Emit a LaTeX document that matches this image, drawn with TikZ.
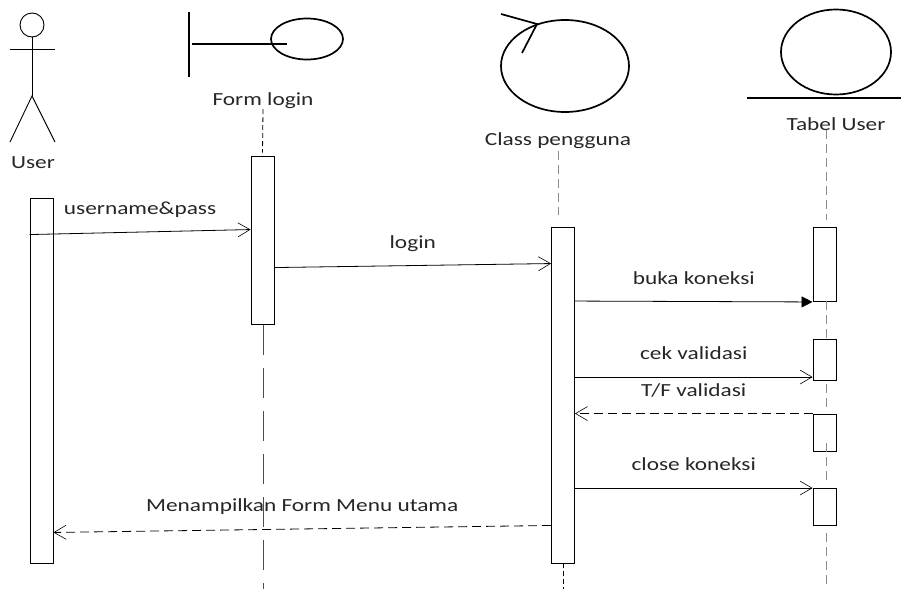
\documentclass[tikz,border=0pt]{standalone}
\usepackage{fontspec}
\setmainfont[FakeStretch=1.26]{Carlito}
\usepackage{tikz}
\usetikzlibrary{shapes,arrows.meta}
\usetikzlibrary{calc,positioning}
\definecolor{lifegray}{gray}{0.55}
\tikzstyle{arrow} = [line width=0.8pt,-{Straight Barb[length=12pt,width=14pt,line width=0.6pt]}]
\tikzstyle{retarrow} = [arrow,dash pattern=on 9pt off 5pt]
\tikzstyle{lifeline} = [line width=0.8pt,dash pattern=on 5pt off 3pt]
\tikzstyle{lifelong} = [line width=0.7pt,black!70,dash pattern=on 30pt off 13pt]
\tikzstyle{lifepale} = [line width=1pt,lifegray,dash pattern=on 9pt off 5pt]
\tikzset{
    block/.style = {draw, fill=white, rectangle, line width=0.9pt, minimum width=23pt, inner sep=0pt},
    lbl/.style = {font=\fontsize{18.5}{20}\selectfont, text=black!85, inner sep=0pt},
    icon/.style = {draw, ellipse, line width=1.7pt, inner sep=0pt},
    stick/.style = {line width=0.9pt},
    bar/.style = {line width=1.7pt},
}

\begin{document}
\begin{tikzpicture}[x=1pt, y=-1pt]
    \useasboundingbox (0,0) rectangle (901,589);

    % headers
    \node [draw, circle, stick, minimum size=24pt, inner sep=0pt] (userhead) at (32,25) {};
    \coordinate (userhip) at (32,96);
    \coordinate (userarml) at (10,49);
    \coordinate (userarmr) at (55,49);
    \coordinate (userlegl) at (10,142);
    \coordinate (userlegr) at (55,142);
    \draw [stick] (userhead) -- (userhip);
    \draw [stick] (userarml) -- (userarmr);
    \draw [stick] (userlegl) -- (userhip) -- (userlegr);
    \node [lbl] (lbluser) at (33,163) {User};

    \coordinate (formbartop) at (189,12);
    \coordinate (formbarbot) at (189,77);
    \coordinate (formstem) at (192,44);
    \coordinate (formstemend) at (287,44);
    \node [icon, minimum width=72pt, minimum height=41pt] (formcircle) at (307,39) {};
    \draw [bar, line width=2.2pt] (formbartop) -- (formbarbot);
    \draw [bar] (formstem) -- (formstemend);
    \node [lbl] (lblform) at (263,101) {Form login};

    \node [icon, minimum width=128pt, minimum height=92pt] (classcircle) at (565,66) {};
    \coordinate (classtip) at (537,24);
    \coordinate (classa) at (501,14);
    \coordinate (classb) at (522,53);
    \draw [bar] (classa) -- (classtip) -- (classb);
    \node [lbl] (lblclass) at (558,141) {Class pengguna};

    \node [icon, minimum width=110pt, minimum height=85pt] (tabelcircle) at (836,52) {};
    \coordinate (tabell) at (747,98);
    \coordinate (tabelr) at (901,98);
    \draw [bar] (tabell) -- (tabelr);
    \node [lbl] (lbltabel) at (836,124) {Tabel User};

    % activation boxes
    \node [block, minimum height=365pt] (boxuser) at (41.5,380.5) {};
    \node [block, minimum height=168pt] (boxform) at (262.5,240) {};
    \node [block, minimum height=336pt] (boxclass) at (563,395) {};
    \node [block, minimum height=74pt] (boxtabela) at (824.5,264) {};
    \node [block, minimum height=41pt] (boxtabelb) at (824.5,359.5) {};
    \node [block, minimum height=37pt] (boxtabelc) at (824.5,432.5) {};
    \node [block, minimum height=37pt] (boxtabeld) at (824.5,506.5) {};

    % lifelines
    \coordinate (endform) at (263,589);
    \coordinate (endclass) at (563,589);
    \coordinate (endtabel) at (826,584);
    \draw [lifeline] ([yshift=0]lblform.south) -- ([yshift=3]boxform.north);
    \draw [lifelong] ([xshift=0.5,yshift=-1]boxform.south) -- (endform);
    \draw [lifepale] ([yshift=-2]lblclass.south) -- ([xshift=-5,yshift=12]boxclass.north);
    \draw [lifeline] (boxclass.south) -- (endclass);
    \draw [lifepale] ([xshift=-10,yshift=1]lbltabel.south) -- ([xshift=1.5,yshift=7]boxtabela.north);
    \draw [lifepale] ([xshift=1.5]boxtabela.south) -- ([xshift=1.5]boxtabelb.north);
    \draw [lifepale] ([xshift=1.5,yshift=-4]boxtabelb.south) -- ([xshift=1.5,yshift=4]boxtabelc.north);
    \draw [lifepale] ([xshift=1.5,yshift=8]boxtabelc.south) -- ([xshift=1.5,yshift=6]boxtabeld.north);
    \draw [lifepale] ([xshift=1.5,yshift=-8]boxtabeld.south) -- (endtabel);

    % messages
    \draw [arrow] ([yshift=-37]boxuser.north west) -- node [lbl, pos=0.5, yshift=22] (lblusername) {username\&pass} ([yshift=-74]boxform.north west);
    \draw [arrow] ([yshift=-112]boxform.north east) -- node [lbl, yshift=21.5] (lbllogin) {login} ([yshift=-37]boxclass.north west);
    \draw [line width=0.8pt, -{Triangle[length=11pt,width=11pt]}] ([yshift=-74.5]boxclass.north east) -- node [lbl, yshift=23] (lblbuka) {buka koneksi} ([yshift=-0.5]boxtabela.south west);
    \draw [arrow] ([yshift=-150.5]boxclass.north east) -- node [lbl, yshift=23.5] (lblcek) {cek validasi} ([yshift=-38.5]boxtabelb.north west);
    \draw [retarrow] (boxtabelc.north west) -- node [lbl, yshift=23.5] (lbltf) {T/F validasi} ([yshift=-187]boxclass.north east);
    \draw [arrow] ([yshift=-261.5]boxclass.north east) -- node [lbl, yshift=23.5] (lblclose) {close koneksi} ([yshift=-0.5]boxtabeld.north west);
    \draw [retarrow] ([yshift=38]boxclass.south west) -- node [lbl, yshift=22] (lblmenu) {Menampilkan Form Menu utama} ([yshift=31]boxuser.south east);
\end{tikzpicture}
\end{document}
